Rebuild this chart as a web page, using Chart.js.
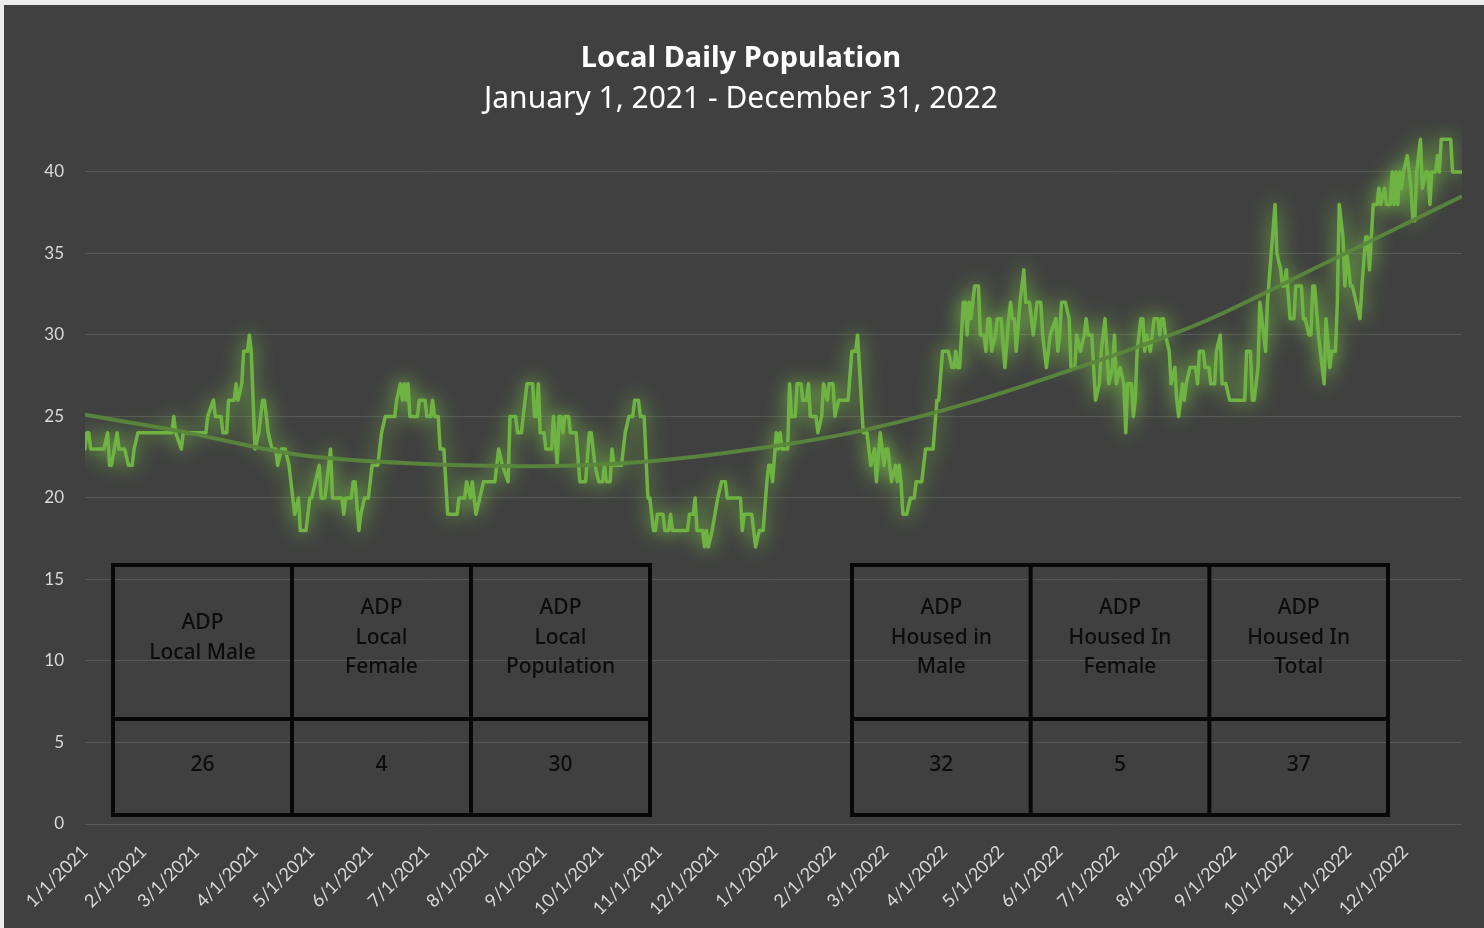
<!DOCTYPE html>
<html>
<head>
<meta charset="utf-8">
<title>Local Daily Population</title>
<script src="https://cdn.jsdelivr.net/npm/chart.js@4/dist/chart.umd.min.js"></script>
<style>
  html, body { margin: 0; padding: 0; }
  body { width: 1484px; height: 928px; background: #ececec; position: relative; overflow: hidden; }
  #frame { position: absolute; left: 4px; top: 5px; width: 1480px; height: 923px; background: #404040; }
  #popChart { position: absolute; left: 0; top: 0; }
</style>
</head>
<body>
<div id="frame"></div>
<canvas id="popChart" width="1484" height="928"></canvas>
<script>
// x axis: day offsets from 1/1/2021 where each month starts
const monthTickDays = [0, 31, 59, 90, 120, 151, 181, 212, 243, 273, 304, 334,
  365, 396, 424, 455, 485, 516, 546, 577, 608, 638, 669, 699];
const monthTickLabels = ["1/1/2021", "2/1/2021", "3/1/2021", "4/1/2021", "5/1/2021", "6/1/2021",
  "7/1/2021", "8/1/2021", "9/1/2021", "10/1/2021", "11/1/2021", "12/1/2021",
  "1/1/2022", "2/1/2022", "3/1/2022", "4/1/2022", "5/1/2022", "6/1/2022",
  "7/1/2022", "8/1/2022", "9/1/2022", "10/1/2022", "11/1/2022", "12/1/2022"];
const yTicks = [0, 5, 10, 15, 20, 25, 30, 35, 40];

const popDays = [
  0, 1, 2, 3, 10, 12, 13, 14, 17, 18, 21, 23, 25, 26, 28, 46, 47, 48, 51, 52, 64, 65, 68, 69, 72, 73, 75, 76, 79, 80,
  81, 83, 84, 86, 87, 88, 90, 92, 94, 95, 97, 99, 101, 102, 104, 106, 108, 110, 111, 113, 114, 117, 119, 120, 122, 124,
  125, 127, 128, 130, 131, 136, 137, 138, 141, 142, 143, 145, 146, 148, 150, 151, 152, 155, 156, 157, 159, 164, 165, 167,
  168, 169, 170, 171, 172, 176, 177, 180, 181, 183, 184, 185, 187, 188, 190, 192, 197, 198, 201, 202, 204, 205, 206, 207,
  209, 211, 217, 219, 221, 224, 225, 228, 229, 231, 233, 234, 237, 238, 239, 240, 241,
  243, 244, 247, 248, 250, 251, 252, 253, 254, 256, 257, 260, 262, 265, 267, 268, 270, 272, 274, 275, 276, 278, 279, 280,
  284, 286, 288, 290, 291, 293, 294, 296, 298, 299, 301, 302, 303, 306, 307, 309, 310, 311, 319, 320, 322, 323, 324, 327,
  328, 329, 330, 332, 335, 337, 339, 340, 347, 348, 349, 353, 354, 355, 357,
  359, 361, 362, 363, 364, 366, 367, 368, 369, 372, 373, 374, 376, 377, 379, 380, 382, 383, 384, 387, 388, 390, 391, 393,
  394, 396, 397, 399, 404, 406, 408, 409, 410, 412, 414, 416, 418, 419, 421, 422, 423, 424, 425, 426, 427, 429, 430, 431,
  432, 433, 435, 437, 439, 440, 443, 445, 449, 451, 452, 454, 457, 459, 460, 461, 462, 463,
  465, 466, 467, 468, 469, 470, 471, 473, 474, 476, 477, 478, 479, 480, 482, 483, 485, 487, 489, 490, 491, 492, 493, 495,
  497, 498, 500, 502, 504, 506, 507, 509, 510, 511, 514, 515, 516, 517, 519, 521, 522, 524, 525, 527, 529, 530, 531, 533,
  534, 535, 537, 538, 540, 541, 542, 544, 545, 546, 548, 550, 551, 552, 554, 555, 556, 557, 559, 560, 561, 562, 564, 565,
  566, 568, 569, 570, 571, 572, 574, 575, 577, 578, 579, 581, 582, 583, 585, 588, 589,
  590, 592, 593, 595, 596, 598, 599, 601, 602, 604, 606, 614, 615, 617, 618, 619, 621, 622, 624, 625, 626, 628, 630, 631,
  633, 634, 635, 636, 638, 640, 641, 644, 645, 646, 648, 649, 650, 651, 653, 655, 656, 657, 659, 660, 662, 663, 664, 666,
  667, 668, 670, 671, 673, 675, 676, 678, 679, 680, 681, 682, 684, 685, 686, 688, 689, 691, 692, 693, 694, 695, 696, 697,
  698, 700, 702, 703, 704, 705, 707, 708, 710, 711, 712, 713, 715, 716, 717, 718, 723, 724, 729
];
const popValues = [
  23, 24, 24, 23, 23, 24, 22, 22, 24, 23, 23, 22, 22, 23, 24, 24, 25, 24, 23, 24, 24, 25, 26, 25, 25, 24, 24, 26, 26, 27,
  26, 27, 29, 29, 30, 29, 23, 24, 26, 26, 24, 23, 23, 22, 23, 23, 22, 20, 19, 20, 18, 18, 20, 20, 21, 22,
  20, 20, 21, 23, 20, 20, 19, 20, 20, 21, 21, 18, 19, 20, 20, 21, 22, 22, 23, 24, 25, 25, 26, 27,
  26, 27, 26, 27, 25, 25, 26, 26, 25, 25, 26, 25, 25, 23, 23, 19, 19, 20, 20, 21, 20, 21, 20, 19,
  20, 21, 21, 23, 22, 21, 25, 25, 24, 24, 26, 27, 27, 25, 25, 27, 24,
  24, 23, 23, 25, 22, 25, 25, 24, 25, 25, 24, 24, 21, 21, 24, 24, 22, 21, 21, 22, 21, 21, 23, 22,
  22, 24, 25, 25, 26, 26, 25, 25, 20, 20, 18, 18, 19, 19, 18, 18, 19, 18, 18, 19, 19, 20, 18, 18,
  17, 18, 17, 18, 20, 21, 21, 20, 20, 18, 19, 19, 18, 17, 18,
  18, 21, 22, 22, 21, 24, 23, 24, 23, 23, 27, 25, 25, 27, 27, 26, 26, 27, 25, 25, 24, 25, 27, 26,
  27, 27, 25, 26, 26, 29, 29, 30, 28, 24, 24, 22, 23, 21, 24, 23, 22, 23, 23, 22, 21, 22, 21, 22,
  21, 19, 19, 20, 20, 21, 21, 23, 23, 26, 26, 29, 29, 28, 28, 29, 28, 28,
  32, 32, 30, 32, 31, 32, 33, 33, 30, 30, 29, 31, 31, 29, 30, 31, 31, 28, 31, 32, 31, 31, 29, 32,
  34, 32, 32, 30, 32, 32, 30, 28, 29, 30, 31, 29, 30, 32, 32, 31, 28, 28, 30, 29, 30, 31, 30, 30,
  28, 26, 27, 29, 31, 29, 27, 28, 30, 27, 28, 27, 24, 27, 27, 25, 26, 29, 31, 31, 29, 30, 29, 30,
  31, 31, 30, 31, 31, 30, 29, 27, 28, 26, 25, 27, 26, 27, 28, 28, 27,
  29, 29, 28, 28, 27, 27, 29, 30, 27, 27, 26, 26, 29, 29, 26, 26, 28, 32, 30, 29, 32, 35, 38, 35,
  34, 33, 33, 34, 31, 31, 33, 33, 31, 31, 30, 30, 33, 33, 30, 28, 27, 31, 28, 29, 29, 32, 38, 36,
  33, 35, 33, 33, 32, 31, 33, 36, 36, 34, 36, 38, 38, 39, 38, 39, 38, 38, 40, 38, 40, 38, 40, 39,
  40, 41, 39, 37, 37, 40, 42, 39, 40, 40, 38, 40, 40, 41, 40, 42, 42, 40, 40
];

// polynomial trendline
const trendDays = [0, 50, 113, 177, 241, 294, 357, 410, 473, 527, 590, 653, 729];
const trendValues = [25.1, 24.1, 22.65, 22.1, 21.95, 22.2, 23.05, 24.1, 26.0, 28.05, 30.7, 34.2, 38.5];

// the two summary tables
const localHeads = [["ADP", "Local Male"], ["ADP", "Local", "Female"], ["ADP", "Local", "Population"]];
const localValues = [26, 4, 30];
const housedHeads = [["ADP", "Housed in", "Male"], ["ADP", "Housed In", "Female"], ["ADP", "Housed In", "Total"]];
const housedValues = [32, 5, 37];

const toPoints = (xs, ys) => xs.map((x, i) => ({ x: x, y: ys[i] }));

// soft green glow behind the daily line
const glowPlugin = {
  id: "glow",
  beforeDatasetDraw(chart, args) {
    if (args.index !== 1) return;
    const c = chart.ctx;
    c.save();
    c.shadowColor = "rgba(125, 205, 70, 1)";
    c.shadowBlur = 20;
  },
  afterDatasetDraw(chart, args) {
    if (args.index !== 1) return;
    chart.ctx.restore();
  }
};

function drawTable(c, left, right, heads, values) {
  const top = 565, mid = 719, bottom = 815;
  const colW = (right - left) / 3;
  c.save();
  c.strokeStyle = "#080808";
  c.lineWidth = 4;
  c.strokeRect(left, top, right - left, bottom - top);
  c.beginPath();
  c.moveTo(left, mid); c.lineTo(right, mid);
  for (let i = 1; i < 3; i++) {
    c.moveTo(left + colW * i, top); c.lineTo(left + colW * i, bottom);
  }
  c.stroke();
  c.fillStyle = "#0c0c0c";
  c.textAlign = "center";
  c.textBaseline = "middle";
  c.font = "500 21px 'Noto Sans', sans-serif";
  heads.forEach((lines, i) => {
    const cx = left + colW * (i + 0.5);
    const startY = (top + mid) / 2 - (lines.length - 1) * 29.5 / 2 - 4;
    lines.forEach((t, j) => c.fillText(t, cx, startY + j * 29.5));
    c.fillText(String(values[i]), cx, (mid + bottom) / 2 - 2);
  });
  c.restore();
}

const overlayPlugin = {
  id: "overlay",
  afterDraw(chart) {
    const c = chart.ctx;
    c.save();
    c.fillStyle = "#ffffff";
    c.textAlign = "center";
    c.textBaseline = "middle";
    c.font = "bold 29px 'Noto Sans', sans-serif";
    c.fillText("Local Daily Population", 741, 59);
    c.font = "30px 'Noto Sans', sans-serif";
    c.fillText("January 1, 2021 - December 31, 2022", 741, 99);
    c.restore();
    drawTable(c, 113, 650, localHeads, localValues);
    drawTable(c, 852, 1388, housedHeads, housedValues);
  }
};

const ctx = document.getElementById("popChart").getContext("2d");
new Chart(ctx, {
  type: "line",
  data: {
    datasets: [
      {
        label: "Trend",
        data: toPoints(trendDays, trendValues),
        borderColor: "rgba(90, 135, 60, 0.95)",
        borderWidth: 4,
        pointRadius: 0,
        cubicInterpolationMode: "monotone",
        order: 0
      },
      {
        label: "Local Daily Population",
        data: toPoints(popDays, popValues),
        borderColor: "#6fb443",
        borderWidth: 3.5,
        borderJoinStyle: "round",
        borderCapStyle: "round",
        pointRadius: 0,
        tension: 0,
        order: 1
      }
    ]
  },
  options: {
    responsive: false,
    animation: false,
    layout: { padding: { top: 123, right: 22, left: 0, bottom: 0 } },
    plugins: { legend: { display: false }, tooltip: { enabled: false } },
    scales: {
      x: {
        type: "linear",
        min: 0,
        max: 729,
        grid: { display: false },
        border: { display: false },
        afterBuildTicks: (s) => { s.ticks = monthTickDays.map(v => ({ value: v })); },
        afterFit: (s) => { s.height = 104; },
        ticks: {
          autoSkip: false,
          minRotation: 45,
          maxRotation: 45,
          padding: 9,
          color: "#d9d9d9",
          font: { family: "Lato", size: 18 },
          callback: (v, i) => monthTickLabels[i]
        }
      },
      y: {
        min: 0,
        max: 43,
        afterBuildTicks: (s) => { s.ticks = yTicks.map(v => ({ value: v })); },
        afterFit: (s) => { s.width = 85; },
        grid: { color: "#585858", lineWidth: 1, drawTicks: false },
        border: { display: false },
        ticks: {
          padding: 21,
          color: "#d9d9d9",
          font: { family: "Lato", size: 17 }
        }
      }
    }
  },
  plugins: [glowPlugin, overlayPlugin]
});
</script>
</body>
</html>
